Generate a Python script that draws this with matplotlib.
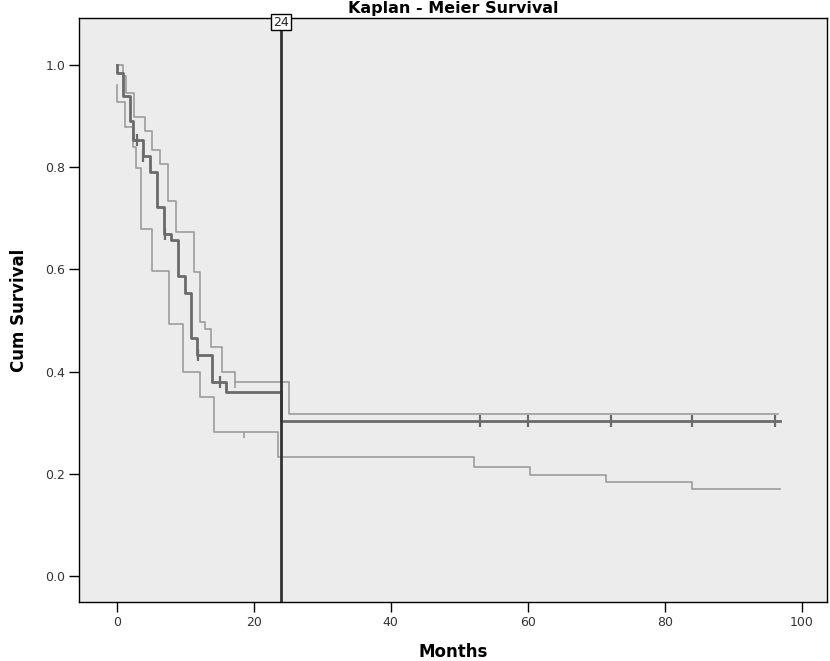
import matplotlib
matplotlib.use('Agg')
import matplotlib.pyplot as plt
from matplotlib.path import Path
from matplotlib.transforms import blended_transform_factory

# Kaplan-Meier estimate (step function, post)
km_t = [0, 0.05, 0.93, 1.9, 2.4, 3.76, 4.8, 5.9, 6.9, 7.85, 8.9, 9.96, 10.8, 11.76, 13.9, 15.9, 24.0, 96.8]
km_s = [1.0, 0.984, 0.939, 0.89, 0.854, 0.822, 0.79, 0.723, 0.67, 0.657, 0.587, 0.553, 0.466, 0.432, 0.38, 0.36, 0.3025, 0.3025]

# censored cases on the estimate
cens_t = [2.9, 3.85, 7.0, 11.9, 15.0, 53.0, 60.1, 72.1, 84.0, 96.1]
cens_s = [0.854, 0.822, 0.67, 0.432, 0.38, 0.3025, 0.3025, 0.3025, 0.3025, 0.3025]

# upper 95% CI
up_t = [0, 0.9, 1.27, 2.5, 4.1, 5.2, 6.3, 7.5, 8.6, 11.3, 12.2, 12.9, 13.8, 15.3, 17.2, 25.2, 96.6]
up_s = [1.0, 0.978, 0.945, 0.899, 0.87, 0.834, 0.806, 0.734, 0.674, 0.594, 0.497, 0.484, 0.448, 0.399, 0.38, 0.316, 0.316]

# lower 95% CI
lo_t = [0, 0.08, 1.17, 2.4, 2.8, 3.6, 5.2, 7.66, 9.6, 12.15, 14.15, 23.5, 52.2, 60.3, 71.4, 84.0, 96.8]
lo_s = [0.96, 0.927, 0.878, 0.839, 0.798, 0.679, 0.597, 0.494, 0.399, 0.35, 0.282, 0.233, 0.214, 0.198, 0.184, 0.171, 0.171]

# small ticks hanging on the CI lines
ci_tick_t = [17.2, 18.6]
ci_tick_s = [0.38, 0.282]

ref_month = 24
x_ticks = [0, 20, 40, 60, 80, 100]
y_ticks = [0.0, 0.2, 0.4, 0.6, 0.8, 1.0]

fig = plt.figure(figsize=(8.3, 6.61), dpi=100)
ax = fig.add_axes([79 / 830, 1 - 602 / 661, (827 - 79) / 830, (602 - 18) / 661])
ax.set_facecolor('#ececec')

ax.step(up_t, up_s, where='post', color='#9c9c9c', linewidth=1.2)
ax.step(lo_t, lo_s, where='post', color='#9c9c9c', linewidth=1.2)
ax.step(km_t, km_s, where='post', color='#6a6a6a', linewidth=2.0)
ax.plot(cens_t, cens_s, linestyle='none', marker='|', markersize=8,
        markeredgewidth=1.6, color='#6a6a6a')

hang = Path([[0, 0], [0, -1]])
ax.plot(ci_tick_t, ci_tick_s, linestyle='none', marker=hang, markersize=8,
        markeredgewidth=1.2, color='#9c9c9c')

# reference line at 24 months
ax.axvline(ref_month, color='#333333', linewidth=2.0)
trans = blended_transform_factory(ax.transData, ax.transAxes)
ax.text(ref_month, 0.993, str(ref_month), transform=trans, ha='center', va='center',
        fontsize=9, color='#222222',
        bbox=dict(boxstyle='square,pad=0.15', fc='white', ec='black', lw=1))

ax.set_xlim(-5.52, 103.7)
ax.set_ylim(-0.051, 1.092)
ax.set_xticks(x_ticks)
ax.set_yticks(y_ticks)
ax.set_yticklabels([f'{v:.1f}' for v in y_ticks])
ax.tick_params(direction='out', length=7, width=1, labelsize=9, colors='#333333', pad=3)
ax.tick_params(axis='both', color='black')
for sp in ax.spines.values():
    sp.set_linewidth(1.0)
    sp.set_color('black')

ax.set_xlabel('Months', fontsize=12, fontweight='bold', labelpad=10)
ax.set_ylabel('Cum Survival', fontsize=12, fontweight='bold', labelpad=12)
fig.text(453 / 830, 1 - 9 / 661, 'Kaplan - Meier Survival', ha='center', va='center',
         fontsize=11.5, fontweight='bold')

fig.savefig('out.png', dpi=100)
